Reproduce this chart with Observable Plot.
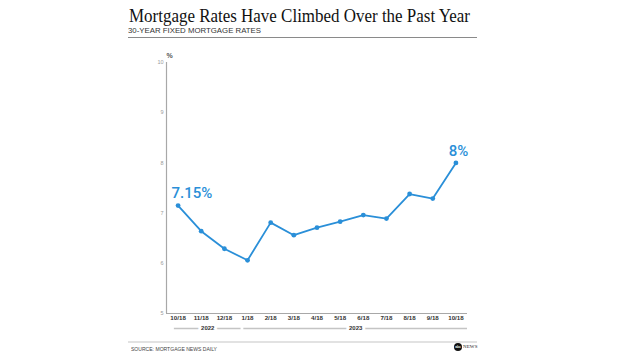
<!DOCTYPE html>
<html>
<head>
<meta charset="utf-8">
<script src="https://cdn.jsdelivr.net/npm/d3@7"></script>
<script src="https://cdn.jsdelivr.net/npm/@observablehq/plot@0.6"></script>
<style>
  html, body { margin: 0; padding: 0; background: #fff; }
  #wrap { position: relative; width: 630px; height: 353px; overflow: hidden; background: #fff; }
  #wrap svg { position: absolute; left: 0; top: 0; }
  .fit { position: absolute; white-space: nowrap; transform-origin: 0 0; line-height: 1; }
  #title { left: 129px; top: 6.5px; font-family: "Liberation Serif", "Times New Roman", serif; font-size: 18.5px; color: #111; }
  #subtitle { left: 128px; top: 26.5px; font-family: "Liberation Sans Narrow", "Liberation Sans", Arial, sans-serif; font-size: 7.2px; color: #333; }
  #rule { position: absolute; left: 128px; top: 37px; width: 349px; height: 1px; background: #8a8a8a; }
  #footrule { position: absolute; left: 128px; top: 340.5px; width: 349px; height: 2px; background: #e2e2e2; }
  #source { left: 131px; top: 345.5px; font-family: "Liberation Sans Narrow", "Liberation Sans", Arial, sans-serif; font-size: 6.2px; color: #444; }
  #logo { position: absolute; left: 454px; top: 342px; height: 9px; display: flex; align-items: center; gap: 1px; }
  #logo .dot { width: 8px; height: 8px; border-radius: 50%; background: #111; color: #fff; font: bold 3.2px "Liberation Sans", Arial, sans-serif; display: flex; align-items: center; justify-content: center; }
  #logo .news { font: 5px "Liberation Serif", serif; color: #222; letter-spacing: 0.1px; }
</style>
</head>
<body>
<div id="wrap">
  <div id="title" class="fit">Mortgage Rates Have Climbed Over the Past Year</div>
  <div id="subtitle" class="fit">30-YEAR FIXED MORTGAGE RATES</div>
  <div id="rule"></div>
  <div id="footrule"></div>
  <div id="source" class="fit">SOURCE: MORTGAGE NEWS DAILY</div>
  <div id="logo"><div class="dot">abc</div><div class="news">NEWS</div></div>
</div>
<script>
// ---- data ----
const months = ["10/18","11/18","12/18","1/18","2/18","3/18","4/18","5/18","6/18","7/18","8/18","9/18","10/18"];
const rates  = [7.15, 6.64, 6.29, 6.06, 6.81, 6.56, 6.71, 6.83, 6.96, 6.89, 7.38, 7.29, 8.0];
const yTicks = [5, 6, 7, 8, 9, 10];
const years = ["2022", "2023"];
const yearFirstIdx = [0, 3];
const yearLastIdx = [2, 12];
const calloutIdx = [0, 12];
const calloutText = ["7.15%", "8%"];

const data = months.map((m, i) => ({i, month: m, rate: rates[i]}));
const xDomain = [-0.5, months.length - 0.5];
const clampX = v => Math.max(xDomain[0], Math.min(xDomain[1], v));
const yearRows = years.map((y, k) => ({
  year: y,
  x1: clampX(yearFirstIdx[k] - 0.16),
  x2: clampX(yearLastIdx[k] + 0.72)
}));
yearRows.forEach(d => d.mid = (d.x1 + d.x2) / 2);
const callouts = calloutIdx.map((idx, k) => ({i: idx, rate: rates[idx], label: calloutText[k], first: idx === 0}));

const blue = "#2a8fd8";
const sans = "'Liberation Sans Narrow', 'Liberation Sans', Arial, sans-serif";
const calloutFont = "Roboto, 'Open Sans', sans-serif";

const chart = Plot.plot({
  width: 630,
  height: 353,
  marginTop: 62,
  marginBottom: 40,
  marginLeft: 166,
  marginRight: 163,
  style: {fontFamily: sans, background: "transparent", overflow: "visible"},
  x: {type: "linear", domain: xDomain},
  y: {domain: [5, 10]},
  marks: [
    Plot.axisY(yTicks, {tickSize: 0, tickPadding: 3, tickFormat: d => String(d), fontSize: 5.5, color: "#9a9a9a", label: null}),
    Plot.axisX(data.map(d => d.i), {tickSize: 0, tickPadding: 2, tickFormat: i => months[i], fontSize: 6.2, fontWeight: "bold", color: "#333", label: null}),
    Plot.ruleX([xDomain[0]], {y1: 5, y2: 10, stroke: "#a8a8a8", strokeWidth: 1.2}),
    Plot.ruleY([5], {x1: xDomain[0], x2: xDomain[1], stroke: "#a8a8a8", strokeWidth: 1.2}),
    Plot.text(["%"], {frameAnchor: "top-left", dy: -9, fontSize: 7, fontWeight: "bold", fill: "#555"}),
    Plot.ruleY(yearRows, {y: () => 5, x1: "x1", x2: "x2", dy: 15, stroke: "#c4c4c4", strokeWidth: 1.4}),
    Plot.text(yearRows, {x: "mid", y: () => 5, text: "year", dy: 15, fontSize: 6, fontWeight: "bold", fill: "#333", stroke: "white", strokeWidth: 6, paintOrder: "stroke"}),
    Plot.line(data, {x: "i", y: "rate", stroke: blue, strokeWidth: 1.8}),
    Plot.dot(data, {x: "i", y: "rate", r: 2.4, fill: blue}),
    Plot.text(callouts.filter(d => d.first), {
      x: "i", y: "rate", text: "label",
      textAnchor: "start", dx: -6.6, dy: -12,
      fontSize: 15, fontWeight: 500, fill: blue, fontFamily: calloutFont
    }),
    Plot.text(callouts.filter(d => !d.first), {
      x: "i", y: "rate", text: "label",
      dx: 2.5, dy: -12,
      fontSize: 15, fontWeight: 500, fill: blue, fontFamily: calloutFont
    })
  ]
});
document.getElementById("wrap").prepend(chart);

// fit HTML texts to the reference widths
const targets = {title: 341, subtitle: 133, source: 86};
for (const [id, w] of Object.entries(targets)) {
  const el = document.getElementById(id);
  const cw = el.getBoundingClientRect().width;
  el.style.transform = `scaleX(${w / cw})`;
}
</script>
</body>
</html>
